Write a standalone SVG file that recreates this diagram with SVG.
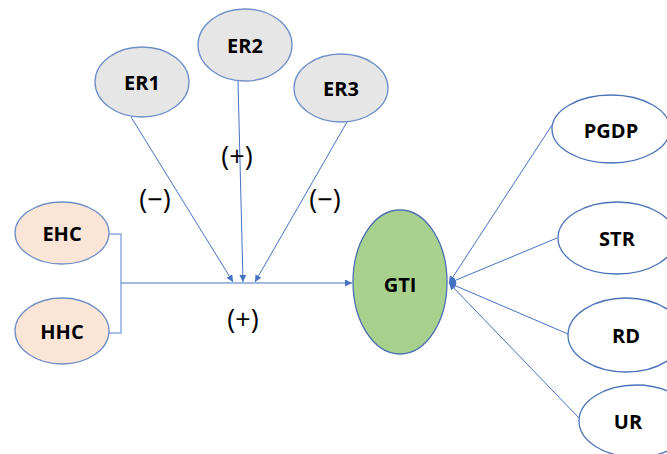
<svg xmlns="http://www.w3.org/2000/svg" width="667" height="454" viewBox="0 0 667 454">
<defs>
<marker id="ah" viewBox="0 0 10 10" refX="10" refY="5" markerWidth="7" markerHeight="7" markerUnits="userSpaceOnUse" orient="auto">
<path d="M0,0 L10,5 L0,10 z" fill="#4472c4"/>
</marker>
</defs>
<style>
.n{stroke:#6f8fc8;stroke-width:1.3}
.grey{fill:#e7e6e6}
.peach{fill:#fbe5d6}
.white{fill:#ffffff;stroke:#4a72b8}
.green{fill:#a9d18e;stroke:#4a6fb0}
.t{font-family:"Open Sans","Liberation Sans",sans-serif;font-weight:bold;font-size:20px;text-anchor:middle;dominant-baseline:central;fill:#000}
.s{font-family:"Open Sans","Liberation Sans",sans-serif;font-size:27px;text-anchor:middle;dominant-baseline:central;fill:#000}
.c{stroke:#4472c4;stroke-width:1;fill:none}
</style>
<rect width="667" height="454" fill="#ffffff"/>
<g id="connectors">
<path d="M108,234 H121 V333 H108" style="fill:none;stroke:#8eaadb;stroke-width:1.5"/>
<line class="c" x1="121" y1="283" x2="352" y2="283" marker-end="url(#ah)"/>
<line class="c" x1="131" y1="117" x2="233" y2="282" marker-end="url(#ah)"/>
<line class="c" x1="238" y1="81" x2="243" y2="282" marker-end="url(#ah)"/>
<line class="c" x1="347" y1="122" x2="255" y2="282" marker-end="url(#ah)"/>
<line class="c" x1="552" y1="125" x2="449" y2="283" marker-end="url(#ah)"/>
<line class="c" x1="557" y1="238" x2="449" y2="283" marker-end="url(#ah)"/>
<line class="c" x1="568" y1="334" x2="449" y2="283" marker-end="url(#ah)"/>
<line class="c" x1="579" y1="418" x2="449" y2="283" marker-end="url(#ah)"/>
<text class="s" x="237" y="155">(+)</text>
<text class="s" x="155" y="198">(−)</text>
<text class="s" x="325" y="198">(−)</text>
<text class="s" x="243" y="318">(+)</text>
</g>
<g id="EHC"><ellipse class="n peach" cx="62" cy="233" rx="47" ry="31"/><text class="t" x="62" y="233">EHC</text></g>
<g id="HHC"><ellipse class="n peach" cx="62" cy="331" rx="47" ry="33"/><text class="t" x="62" y="331">HHC</text></g>
<g id="ER1"><ellipse class="n grey" cx="142" cy="82" rx="47" ry="35"/><text class="t" x="142" y="82">ER1</text></g>
<g id="ER2"><ellipse class="n grey" cx="245" cy="45" rx="47" ry="36"/><text class="t" x="245" y="45">ER2</text></g>
<g id="ER3"><ellipse class="n grey" cx="341" cy="88" rx="47" ry="34"/><text class="t" x="341" y="88">ER3</text></g>
<g id="GTI"><ellipse class="green" stroke-width="1.3" cx="400" cy="282" rx="47" ry="72"/><text class="t" x="400" y="284">GTI</text></g>
<g id="PGDP"><ellipse class="white" stroke-width="1.3" cx="611" cy="129" rx="59" ry="34"/><text class="t" x="611" y="130">PGDP</text></g>
<g id="STR"><ellipse class="white" stroke-width="1.3" cx="617" cy="238" rx="59" ry="36"/><text class="t" x="617" y="238">STR</text></g>
<g id="RD"><ellipse class="white" stroke-width="1.3" cx="626" cy="335" rx="58" ry="37"/><text class="t" x="626" y="335">RD</text></g>
<g id="UR"><ellipse class="white" stroke-width="1.3" cx="636" cy="421" rx="57" ry="36"/><text class="t" x="628" y="421">UR</text></g>
</svg>
